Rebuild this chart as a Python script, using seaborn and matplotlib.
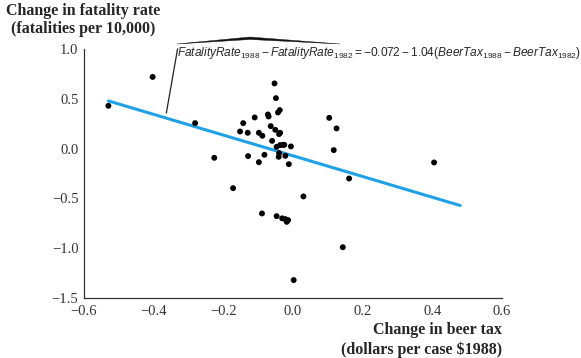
import matplotlib
matplotlib.use('Agg')
import matplotlib.pyplot as plt
from matplotlib import font_manager
import numpy as np
import pandas as pd
import seaborn as sns
from matplotlib.patches import Polygon

# Data: change 1982-1988 by state
beer_tax_change = [-0.530, -0.403, -0.281, -0.226, -0.172, -0.143, -0.152, -0.130,
                   -0.129, -0.110, -0.098, -0.088, -0.098, -0.082, -0.072, -0.070,
                   -0.064, -0.060, -0.053, -0.049, -0.051, -0.043, -0.038, -0.040,
                   -0.037, -0.047, -0.037, -0.029, -0.025, -0.006, -0.040, -0.041,
                   -0.022, -0.012, 0.030, 0.104, 0.125, 0.117, 0.405, 0.161,
                   -0.089, -0.047, -0.031, -0.022, -0.014, -0.018, 0.143, 0.002]
fatality_change = [0.43, 0.72, 0.256, -0.092, -0.397, 0.256, 0.172, 0.159,
                   -0.075, 0.313, 0.159, 0.129, -0.136, -0.062, 0.343, 0.323,
                   0.226, 0.078, 0.655, 0.507, 0.189, 0.363, 0.387, 0.146,
                   0.159, 0.018, 0.035, 0.038, 0.038, 0.022, -0.045, -0.082,
                   -0.072, -0.156, -0.48, 0.309, 0.203, -0.015, -0.139, -0.30,
                   -0.651, -0.678, -0.70, -0.708, -0.718, -0.735, -0.99, -1.32]

intercept = -0.072
slope = -1.04
line_x = [-0.53, 0.48]

x_ticks = [-0.6, -0.4, -0.2, 0.0, 0.2, 0.4, 0.6]
y_ticks = [-1.5, -1.0, -0.5, 0.0, 0.5, 1.0]

df = pd.DataFrame({'dtax': beer_tax_change, 'dfat': fatality_change})
fit = pd.DataFrame({'x': line_x})
fit['y'] = intercept + slope * fit['x']

sns.set_style('white')
plt.rcParams['font.family'] = ['Liberation Serif', 'DejaVu Serif']

# a narrow sans for the equation if there is one
names = {f.name for f in font_manager.fontManager.ttflist}
eq_font = 'Liberation Sans Narrow' if 'Liberation Sans Narrow' in names else 'Liberation Sans'
eq_size = 10.5 if eq_font == 'Liberation Sans Narrow' else 8.6
plt.rcParams['mathtext.fontset'] = 'custom'
plt.rcParams['mathtext.it'] = eq_font + ':italic'
plt.rcParams['mathtext.rm'] = eq_font

fig = plt.figure(figsize=(5.81, 3.58), dpi=100)
ax = fig.add_axes([0.1446, 0.1676, 0.7194, 0.6954])

sns.lineplot(data=fit, x='x', y='y', ax=ax, color='#1ea1e6', linewidth=2.2)
sns.scatterplot(data=df, x='dtax', y='dfat', ax=ax, color='black', s=18,
                edgecolor='none', zorder=3)

ax.set_xlim(-0.6, 0.6)
ax.set_ylim(-1.5, 1.0)
ax.set_xticks(x_ticks)
ax.set_yticks(y_ticks)
ax.set_xticklabels(['\u2212%.1f' % abs(v) if v < 0 else '%.1f' % v for v in x_ticks])
ax.set_yticklabels(['\u2212%.1f' % abs(v) if v < 0 else '%.1f' % v for v in y_ticks])
ax.tick_params(direction='in', length=5, width=0.8, labelsize=10.5,
               colors='#333333', labelcolor='#333333')
ax.tick_params(axis='x', pad=5)
ax.tick_params(axis='y', pad=4)
ax.set_xlabel('')
ax.set_ylabel('')
for s in ['top', 'right']:
    ax.spines[s].set_visible(False)
for s in ['left', 'bottom']:
    ax.spines[s].set_color('#333333')
    ax.spines[s].set_linewidth(0.9)

fig.text(83 / 581, 1 - 20 / 358, 'Change in fatality rate\n(fatalities per 10,000)',
         ha='center', va='center', multialignment='center',
         fontsize=11.5, fontweight='bold', linespacing=1.1)
fig.text(502 / 581, 1 - 340 / 358, 'Change in beer tax\n(dollars per case $1988)',
         ha='right', va='center', multialignment='right',
         fontsize=11.5, fontweight='bold', linespacing=1.2)

# equation and its pointer
eq = (r'$FatalityRate_{1988} - FatalityRate_{1982} = -0.072 - 1.04'
      r'(BeerTax_{1988} - BeerTax_{1982})$')
fig.text(177 / 581, 1 - 56 / 358, eq, ha='left', va='baseline', fontsize=eq_size)
ax.annotate('', xy=(-0.365, 0.33), xytext=(-0.330, 1.03),
            arrowprops=dict(arrowstyle='-', color='#222222', lw=0.9),
            annotation_clip=False)

hat = [(176.7, 44), (250, 37.0), (340, 44), (250, 39.5)]
fig.patches.append(Polygon([(px / 581, 1 - py / 358) for px, py in hat],
                           closed=True, transform=fig.transFigure,
                           color='#111111', lw=0.3))

fig.savefig('out.png', dpi=100)
